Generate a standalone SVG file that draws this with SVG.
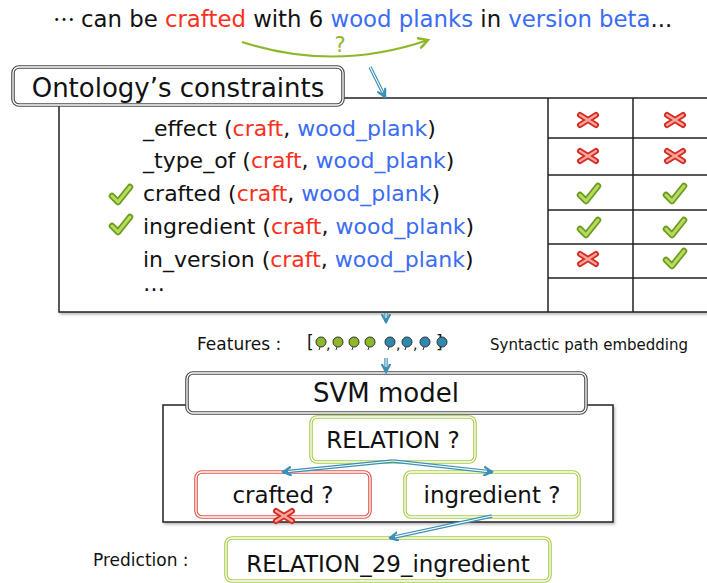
<svg xmlns="http://www.w3.org/2000/svg" width="707" height="583" viewBox="0 0 707 583">
  <style>
    text { font-family: "DejaVu Sans", sans-serif; fill: #111; }
    .red { fill: #F9301D; }
    .blue { fill: #3A6CF4; }
    .row { font-size: 22px; }
    .title { font-size: 26px; text-anchor: middle; }
    .lbl { font-size: 23px; text-anchor: middle; }
    .small { font-size: 17px; }
    .grid { stroke: #222; stroke-width: 1.5; fill: none; }
    .frame { stroke: #222; stroke-width: 1.5; fill: #fff; filter: url(#sh); }
    .box-out { fill: #fff; stroke-width: 3.6; }
    .box-in { fill: none; stroke: #fff; stroke-width: 1.3; }
    .gray { stroke: #4a4a4a; }
    .green { stroke: #A8CC48; }
    .redb { stroke: #E0564A; }
    .pipe { fill: none; stroke: #3A90B4; stroke-width: 3.4; marker-end: url(#ah); }
    .pipe-in { fill: none; stroke: #fff; stroke-width: 1.1; }
    .dot { stroke: #333; stroke-width: 1; }
    .tail { stroke: #333; stroke-width: 1; fill: none; }
  </style>
  <defs>
    <filter id="sh" x="-5%" y="-5%" width="110%" height="115%">
      <feDropShadow dx="1.5" dy="2" stdDeviation="1.2" flood-color="#000" flood-opacity="0.25"/>
    </filter>
    <marker id="ah" viewBox="0 0 10 10" refX="8.5" refY="5" markerWidth="10" markerHeight="10" markerUnits="userSpaceOnUse" orient="auto">
      <path d="M1,1 L8.5,5 L1,9" fill="none" stroke="#3A90B4" stroke-width="2.2" stroke-linecap="round"/>
    </marker>
    <marker id="gh" viewBox="0 0 12 12" refX="10" refY="6" markerWidth="12" markerHeight="12" markerUnits="userSpaceOnUse" orient="auto">
      <path d="M1,1 L10,6 L1,11" fill="none" stroke="#8CB82A" stroke-width="2.4" stroke-linecap="round"/>
    </marker>
    <!-- glossy check mark -->
    <g id="chk">
      <path d="M-9,1 L-3,7 L9,-8" fill="none" stroke="#6E9A1E" stroke-width="6.5" stroke-linecap="round" stroke-linejoin="round"/>
      <path d="M-9,1 L-3,7 L9,-8" fill="none" stroke="#B4DC5E" stroke-width="3" stroke-linecap="round" stroke-linejoin="round"/>
    </g>
    <!-- glossy cross mark -->
    <g id="crs">
      <path d="M-8,-5 L8,5 M-8,5 L8,-5" fill="none" stroke="#D42B22" stroke-width="6" stroke-linecap="round"/>
      <path d="M-8,-5 L8,5 M-8,5 L8,-5" fill="none" stroke="#F9A79D" stroke-width="2.2" stroke-linecap="round"/>
    </g>
  </defs>

  <!-- input sentence -->
  <g id="sentence">
    <text x="53" y="27" font-size="22" style="font-family:'Noto Sans CJK JP',sans-serif">…</text>
    <text x="81" y="27" font-size="22.8">can be <tspan class="red">crafted</tspan> with 6 <tspan class="blue">wood planks</tspan> in <tspan class="blue">version beta</tspan>...</text>
    <path d="M242,42 Q335,72 428,40" fill="none" stroke="#8CB82A" stroke-width="2.2" marker-end="url(#gh)"/>
    <text x="340" y="52" font-size="21" text-anchor="middle" style="fill:#8CB82A">?</text>
  </g>

  <!-- ontology constraints table -->
  <g id="ontology">
    <rect class="frame" x="59" y="98" width="660" height="214"/>
    <path class="grid" d="M548,98 V312 M633,98 V312 M548,138 H707 M548,175 H707 M548,210 H707 M548,244 H707 M548,278 H707"/>
    <text class="row" x="143" y="136">_effect (<tspan class="red">craft</tspan>, <tspan class="blue">wood_plank</tspan>)</text>
    <text class="row" x="143" y="168">_type_of (<tspan class="red">craft</tspan>, <tspan class="blue">wood_plank</tspan>)</text>
    <text class="row" x="143" y="201">crafted (<tspan class="red">craft</tspan>, <tspan class="blue">wood_plank</tspan>)</text>
    <text class="row" x="143" y="234">ingredient (<tspan class="red">craft</tspan>, <tspan class="blue">wood_plank</tspan>)</text>
    <text class="row" x="143" y="267">in_version (<tspan class="red">craft</tspan>, <tspan class="blue">wood_plank</tspan>)</text>
    <text class="row" x="143" y="291">…</text>
    <use href="#chk" transform="translate(121,195)"/>
    <use href="#chk" transform="translate(121,225)"/>
    <use href="#crs" transform="translate(588,120)"/>
    <use href="#crs" transform="translate(675,120)"/>
    <use href="#crs" transform="translate(588,156)"/>
    <use href="#crs" transform="translate(675,156)"/>
    <use href="#chk" transform="translate(589,194)"/>
    <use href="#chk" transform="translate(675,194)"/>
    <use href="#chk" transform="translate(589,228)"/>
    <use href="#chk" transform="translate(675,228)"/>
    <use href="#crs" transform="translate(588,259)"/>
    <use href="#chk" transform="translate(675,259)"/>
    <rect class="box-out gray" x="13" y="67" width="330" height="38" rx="6"/>
    <rect class="box-in" x="13" y="67" width="330" height="38" rx="6"/>
    <text class="title" x="178" y="97">Ontology’s constraints</text>
  </g>

  <!-- feature vector -->
  <g id="features">
    <text class="small" x="197" y="350">Features :</text>
    <text class="small" x="307" y="348">[</text>
    <text class="small" x="436" y="348">]</text>
    <path class="tail" d="M320,347 l-1,3 M337,347 l-1,3 M353,347 l-1,3 M369,347 l-1,3 M389,347 l-1,3 M406,347 l-1,3 M424,347 l-1,3 M441,347 l-1,3"/>
    <circle class="dot" cx="321" cy="342" r="5" fill="#8CB82A"/>
    <circle class="dot" cx="338" cy="342" r="5" fill="#8CB82A"/>
    <circle class="dot" cx="354" cy="342" r="5" fill="#8CB82A"/>
    <circle class="dot" cx="370" cy="342" r="5" fill="#8CB82A"/>
    <circle class="dot" cx="390" cy="342" r="5" fill="#2F89AE"/>
    <circle class="dot" cx="407" cy="342" r="5" fill="#2F89AE"/>
    <circle class="dot" cx="425" cy="342" r="5" fill="#2F89AE"/>
    <circle class="dot" cx="442" cy="342" r="5" fill="#2F89AE"/>
    <text x="326" y="349" font-size="14">,</text>
    <text x="396" y="349" font-size="14">,</text>
    <text x="413" y="349" font-size="14">,</text>
    <text x="490" y="350" font-size="15">Syntactic path embedding</text>
  </g>

  <!-- SVM model -->
  <g id="svm">
    <rect class="frame" x="163" y="405" width="450" height="117"/>
    <rect class="box-out gray" x="187" y="373" width="399" height="40" rx="6"/>
    <rect class="box-in" x="187" y="373" width="399" height="40" rx="6"/>
    <text class="title" x="386" y="402">SVM model</text>
  </g>

  <g id="relation">
    <rect class="box-out green" x="311" y="417" width="164" height="45" rx="6"/>
    <rect class="box-in" x="311" y="417" width="164" height="45" rx="6"/>
    <text class="lbl" x="393" y="448">RELATION ?</text>
  </g>

  <g id="crafted">
    <rect class="box-out redb" x="196" y="472" width="174" height="45" rx="6"/>
    <rect class="box-in" x="196" y="472" width="174" height="45" rx="6"/>
    <text class="lbl" x="283" y="503">crafted ?</text>
    <use href="#crs" transform="translate(284,516)"/>
  </g>

  <g id="ingredient">
    <rect class="box-out green" x="405" y="472" width="174" height="45" rx="6"/>
    <rect class="box-in" x="405" y="472" width="174" height="45" rx="6"/>
    <text class="lbl" x="492" y="503">ingredient ?</text>
  </g>

  <g id="prediction">
    <text class="small" x="93" y="566">Prediction :</text>
    <rect class="box-out green" x="226" y="538" width="324" height="43" rx="6"/>
    <rect class="box-in" x="226" y="538" width="324" height="43" rx="6"/>
    <text class="lbl" x="388" y="572">RELATION_29_ingredient</text>
  </g>

  <!-- connectors -->
  <g id="connectors">
    <path class="pipe" d="M370,67 L385,97"/>
    <path class="pipe-in" d="M370,67 L382.8,92.5"/>
    <path class="pipe" d="M386,313 L386,322"/>
    <path class="pipe-in" d="M386,313 L386,318"/>
    <path class="pipe" d="M386,358 L386,372"/>
    <path class="pipe-in" d="M386,358 L386,367"/>
    <path class="pipe" d="M393,461 L283,472"/>
    <path class="pipe-in" d="M393,461 L288,471.5"/>
    <path class="pipe" d="M393,461 L492,472"/>
    <path class="pipe-in" d="M393,461 L487,471.4"/>
    <path class="pipe" d="M492,516 L390,538"/>
    <path class="pipe-in" d="M492,516 L394.9,536.9"/>
  </g>
</svg>
